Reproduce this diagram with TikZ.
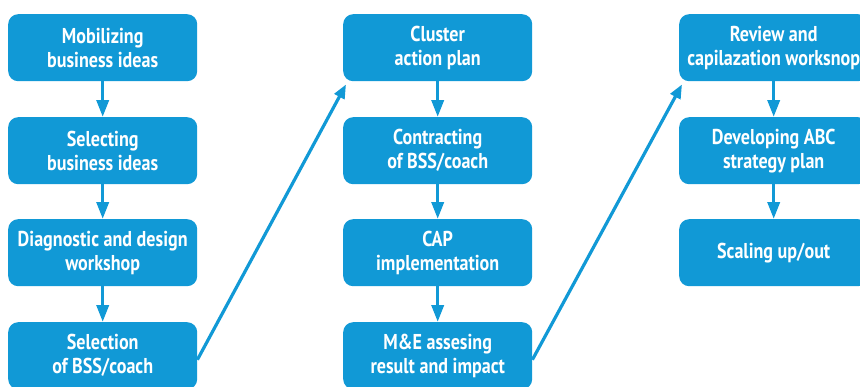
\documentclass[tikz,border=0pt]{standalone}
\usepackage{fontspec}
\setmainfont{PT Sans}[FakeStretch=0.84]
\usetikzlibrary{arrows.meta}
\definecolor{boxblue}{HTML}{1199D6}
\begin{document}
\begin{tikzpicture}[x=1pt,y=-1pt,
  stepbox/.style={fill=boxblue, rounded corners=10pt, minimum width=189pt, minimum height=67pt,
    text=white, font=\bfseries\fontsize{21.5}{24}\selectfont, align=center, inner sep=0pt, anchor=north west},
  flow/.style={draw=boxblue, line width=3.5pt, -{Triangle[length=17pt,width=12pt]}},
  jump/.style={draw=boxblue, line width=3.2pt, -{Triangle[length=14pt,width=11pt]}}]
\useasboundingbox (0,0) rectangle (860,386);
% column 1
\node[stepbox] (a1) at (8,14) {Mobilizing\\business ideas};
\node[stepbox] (a2) at (8,117) {Selecting\\business ideas};
\node[stepbox] (a3) at (8,219) {Diagnostic and design\\workshop};
\node[stepbox] (a4) at (8,322) {Selection\\of BSS/coach};
% column 2
\node[stepbox] (b1) at (343,14) {Cluster\\action plan};
\node[stepbox] (b2) at (343,117) {Contracting\\of BSS/coach};
\node[stepbox] (b3) at (343,219) {CAP\\implementation};
\node[stepbox] (b4) at (343,322) {M\&E assesing\\result and impact};
% column 3
\node[stepbox] (c1) at (679,14) {Review and\\capilazation worksnop};
\node[stepbox] (c2) at (679,117) {Developing ABC\\strategy plan};
\node[stepbox] (c3) at (679,219) {Scaling up/out};
% arrows
\draw[flow] (a1) -- (a2);
\draw[flow] (a2) -- (a3);
\draw[flow] (a3) -- (a4);
\draw[flow] (b1) -- (b2);
\draw[flow] (b2) -- (b3);
\draw[flow] (b3) -- (b4);
\draw[flow] (c1) -- (c2);
\draw[flow] (c2) -- (c3);
\draw[jump] ([yshift=-4pt]a4.east) -- ([shift={(3pt,-3pt)}]b1.south west);
\draw[jump] ([yshift=-4pt]b4.east) -- ([shift={(3pt,-3pt)}]c1.south west);
\end{tikzpicture}
\end{document}
